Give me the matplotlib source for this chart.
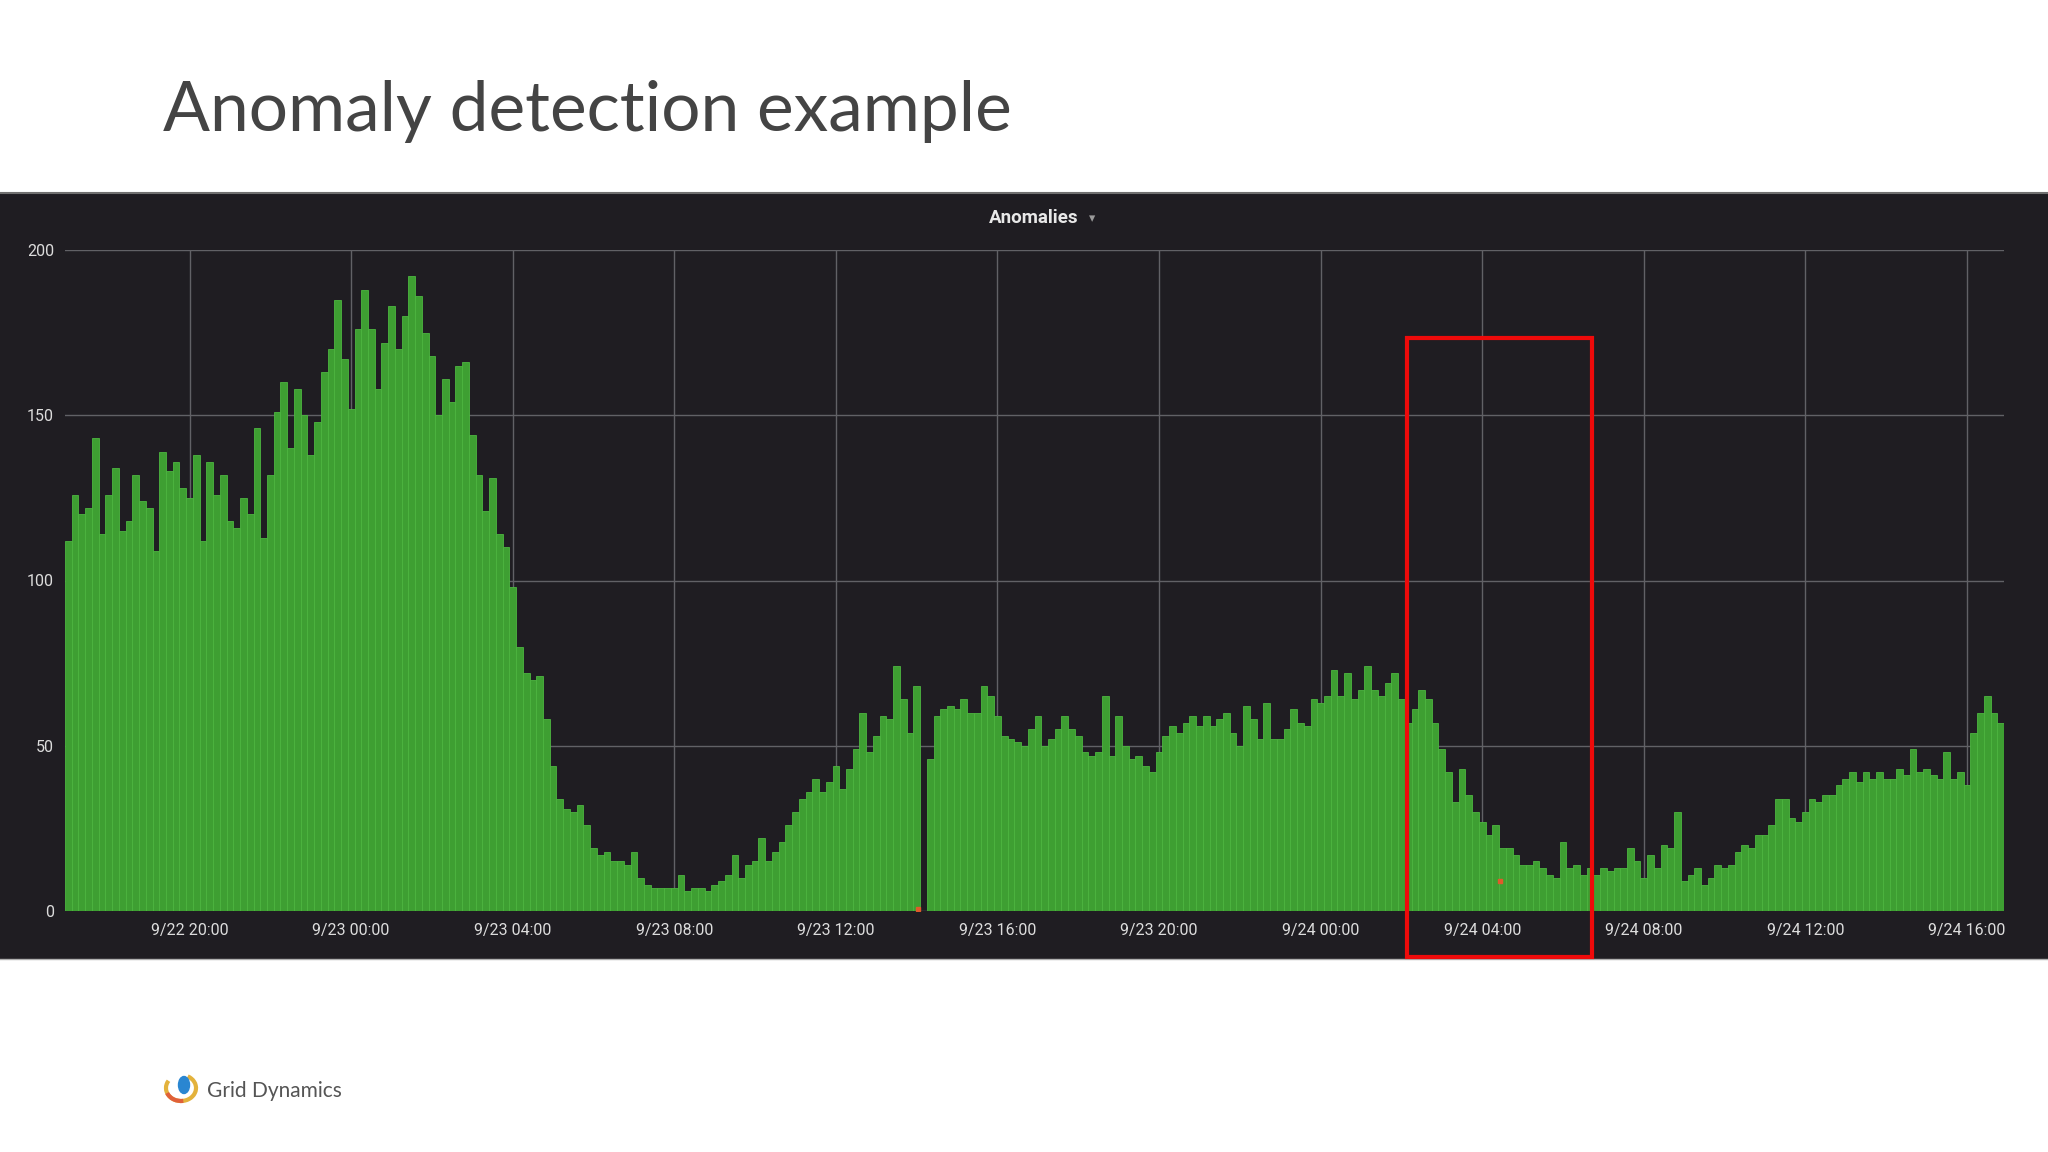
import datetime as dt
import matplotlib
matplotlib.use("Agg")
import matplotlib.pyplot as plt
import matplotlib.dates as mdates
from matplotlib.patches import Rectangle, Ellipse, Arc
from matplotlib.lines import Line2D

# Anomaly counts, 10-minute buckets starting 9/22 16:55
start = dt.datetime(2018, 9, 22, 16, 55)
step = dt.timedelta(minutes=10)

counts_sep22 = [
    112, 126, 120, 122, 143, 114,
    126, 134, 115, 118, 132, 124,
    122, 109, 139, 133, 136, 128,
    125, 138, 112, 136, 126, 132,
    118, 116, 125, 120, 146, 113,
    132, 151, 160, 140, 158, 150,
    138, 148, 163, 170, 185, 167,
]
counts_sep23 = [
    152, 176, 188, 176, 158, 172,
    183, 170, 180, 192, 186, 175,
    168, 150, 161, 154, 165, 166,
    144, 132, 121, 131, 114, 110,
    98, 80, 72, 70, 71, 58,
    44, 34, 31, 30, 32, 26,
    19, 17, 18, 15, 15, 14,
    18, 10, 8, 7, 7, 7,
    7, 11, 6, 7, 7, 6,
    8, 9, 11, 17, 10, 14,
    15, 22, 15, 18, 21, 26,
    30, 34, 36, 40, 36, 39,
    44, 37, 43, 49, 60, 48,
    53, 59, 58, 74, 64, 54,
    68, 0, 46, 59, 61, 62,
    61, 64, 60, 60, 68, 65,
    59, 53, 52, 51, 50, 55,
    59, 50, 52, 55, 59, 55,
    53, 48, 47, 48, 65, 47,
    59, 50, 46, 47, 44, 42,
    48, 53, 56, 54, 57, 59,
    56, 59, 56, 58, 60, 54,
    50, 62, 58, 52, 63, 52,
    52, 55, 61, 57, 56, 64,
]
counts_sep24 = [
    63, 65, 73, 65, 72, 64,
    67, 74, 67, 65, 69, 72,
    64, 57, 61, 67, 64, 57,
    49, 42, 33, 43, 35, 30,
    27, 23, 26, 19, 19, 17,
    14, 14, 15, 13, 11, 10,
    21, 13, 14, 11, 13, 11,
    13, 12, 13, 13, 19, 15,
    10, 17, 13, 20, 19, 30,
    9, 11, 13, 8, 10, 14,
    13, 14, 18, 20, 19, 23,
    23, 26, 34, 34, 28, 27,
    30, 34, 33, 35, 35, 38,
    40, 42, 39, 42, 40, 42,
    40, 40, 43, 41, 49, 42,
    43, 41, 40, 48, 40, 42,
    38, 54, 60, 65, 60, 57,
]

# flagged anomaly points
anomaly_times = [dt.datetime(2018, 9, 23, 14, 2), dt.datetime(2018, 9, 24, 4, 26)]
anomaly_values = [0.5, 9]

tick_times = [dt.datetime(2018, 9, 22, 20) + dt.timedelta(hours=4 * i) for i in range(12)]
tick_labels = ['9/22 20:00', '9/23 00:00', '9/23 04:00', '9/23 08:00', '9/23 12:00',
               '9/23 16:00', '9/23 20:00', '9/24 00:00', '9/24 04:00', '9/24 08:00',
               '9/24 12:00', '9/24 16:00']
y_ticks = [0, 50, 100, 150, 200]

# highlighted window
box_start = dt.datetime(2018, 9, 24, 2, 8)
box_end = dt.datetime(2018, 9, 24, 6, 43)
box_top = 173.4
box_bottom = -13.9

values = counts_sep22 + counts_sep23 + counts_sep24
times = [start + step * i for i in range(len(values))]

W, H = 2048, 1152
fig = plt.figure(figsize=(W / 100, H / 100), dpi=100)
fig.patch.set_facecolor('white')

# dark dashboard panel
panel_top, panel_bot = 193, 959
fig.patches.append(Rectangle((0, 1 - panel_bot / H), 1, (panel_bot - panel_top) / H,
                             transform=fig.transFigure, facecolor='#1f1d22',
                             edgecolor='none', zorder=-10))
fig.add_artist(Line2D([0, 1], [1 - panel_top / H] * 2, color='#707070', lw=1.5, zorder=-5))
fig.add_artist(Line2D([0, 1], [1 - panel_bot / H] * 2, color='#b0b0b0', lw=1.0, zorder=-5))

ax = fig.add_axes([65 / W, 1 - 911 / H, 1939 / W, 661 / H])
ax.set_zorder(2)
ax.set_facecolor('#1f1d22')
ax.bar(times, values, width=step, align='edge', color='#3e9f32',
       edgecolor='#4db640', linewidth=0.6, zorder=2)
ax.plot(anomaly_times, anomaly_values, 's', color='#e05a2b', ms=3, zorder=3)

ax.set_xlim(start, start + dt.timedelta(hours=48))
ax.set_ylim(0, 200)
ax.set_xticks(tick_times)
ax.set_xticklabels(tick_labels)
ax.set_yticks(y_ticks)
ax.set_yticklabels([str(v) for v in y_ticks])
ax.grid(True, color='#616166', linewidth=1.0, zorder=1)
ax.set_axisbelow(True)
for s in ax.spines.values():
    s.set_visible(False)
ax.tick_params(length=0, colors='#dcdcdc', labelsize=11.5)
ax.tick_params(axis='x', pad=9)
ax.tick_params(axis='y', pad=8)
for lbl in ax.get_xticklabels() + ax.get_yticklabels():
    lbl.set_family('Roboto')

x0 = mdates.date2num(box_start)
x1 = mdates.date2num(box_end)
ax.add_patch(Rectangle((x0, box_bottom), x1 - x0, box_top - box_bottom, fill=False,
                       edgecolor='#ee0a0a', linewidth=3, clip_on=False, zorder=6))

# panel title
fig.text(1034 / W, 1 - 218 / H, 'Anomalies', color='#e8e8e8', fontsize=13.5,
         fontweight='bold', family='Roboto', ha='center', va='center')
fig.text(1092 / W, 1 - 219 / H, '▾', color='#9a9a9a', fontsize=9, ha='center', va='center')

# slide title
fig.text(163 / W, 1 - 131 / H, 'Anomaly detection example', color='#444444',
         fontsize=50, family='Lato', ha='left', va='baseline')

# footer logo
fig.text(207 / W, 1 - 1097 / H, 'Grid Dynamics', color='#555555', fontsize=15,
         family='Lato', ha='left', va='baseline')
lax = fig.add_axes([163 / W, 1 - 1104 / H, 38 / W, 36 / H])
lax.set_xlim(0, 38)
lax.set_ylim(0, 36)
lax.axis('off')
lax.add_patch(Arc((18, 16), 30, 26, theta1=150, theta2=420, color='#e3b23c', lw=3))
lax.add_patch(Arc((18, 16), 30, 26, theta1=200, theta2=280, color='#e0603a', lw=3))
lax.add_patch(Ellipse((21, 19), 11, 17, color='#2a86d1'))

fig.savefig('out.png', dpi=100)
